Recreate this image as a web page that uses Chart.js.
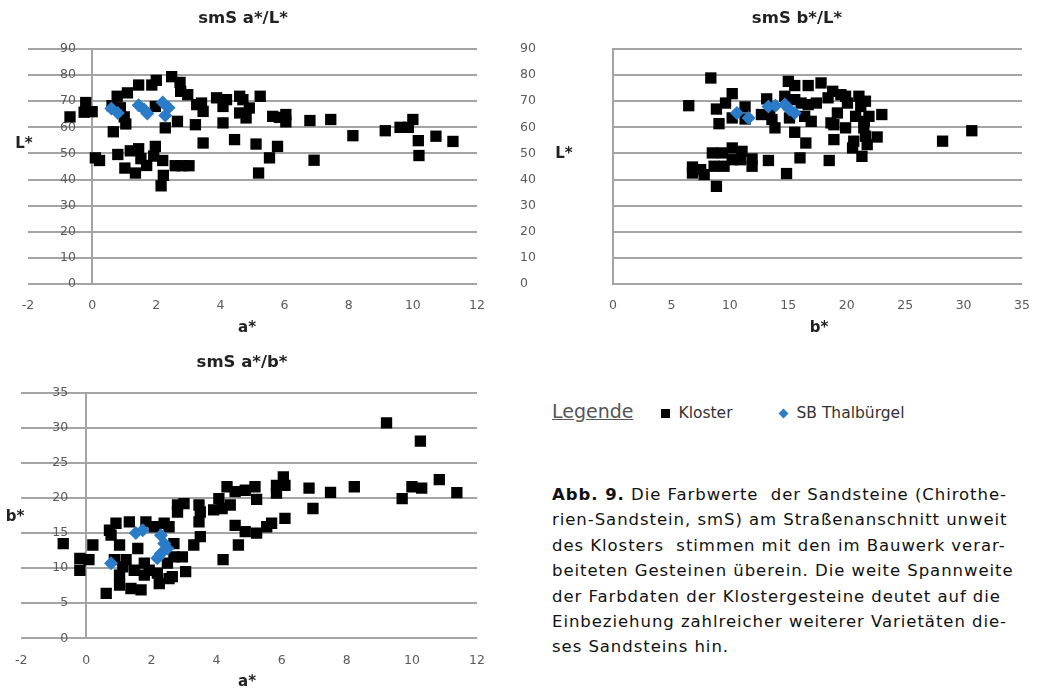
<!DOCTYPE html>
<html>
<head>
<meta charset="utf-8">
<script src="https://cdn.jsdelivr.net/npm/chart.js"></script>
<style>
  body { margin: 0; background: #fff; width: 1044px; height: 696px; overflow: hidden; position: relative; font-family: "DejaVu Sans", sans-serif; }
  canvas { position: absolute; }
  #c1 { left: 0; top: 0; }
  #c2 { left: 520px; top: 0; }
  #c3 { left: 0; top: 340px; }
  #legend { position: absolute; left: 552px; top: 400px; font-size: 15.5px; color: #333; white-space: nowrap; }
  #legend .head { font-size: 19px; color: #555; text-decoration: underline; margin-right: 28px; }
  #legend .sq { display: inline-block; width: 9px; height: 9px; background: #000; margin-right: 8px; }
  #legend .di { display: inline-block; width: 7px; height: 7px; background: #2a7bc8; transform: rotate(45deg); margin: 0 10px 1px 47px; }
  #caption { position: absolute; left: 552px; top: 482px; font-size: 16.5px; letter-spacing: 0.95px; line-height: 25.4px; color: #111; white-space: pre; }
</style>
</head>
<body>
<canvas id="c1" width="500" height="340"></canvas>
<canvas id="c2" width="524" height="340"></canvas>
<canvas id="c3" width="500" height="356"></canvas>
<div id="legend"><span class="head">Legende</span><span class="sq"></span>Kloster<span class="di"></span>SB Thalbürgel</div>
<div id="caption"><b>Abb. 9.</b> Die Farbwerte  der Sandsteine (Chirothe-
rien-Sandstein, smS) am Straßenanschnitt unweit
des Klosters  stimmen mit den im Bauwerk verar-
beiteten Gesteinen überein. Die weite Spannweite
der Farbdaten der Klostergesteine deutet auf die
Einbeziehung zahlreicher weiterer Varietäten die-
ses Sandsteins hin.</div>
<script>
// a*/L*  [a, L]
const klosterAL = [
  [-0.69, 64], [-0.2, 69.5], [-0.25, 65.8], [0, 66], [0.1, 48.3], [0.23, 47.3], [0.62, 68.3], [0.66, 58.3],
  [0.78, 71.9], [0.8, 49.6], [0.88, 67.5], [1.0, 64], [1.02, 44.4], [1.05, 61.3], [1.1, 73.2], [1.19, 51],
  [1.35, 42.5], [1.45, 76.2], [1.45, 51.8], [1.52, 48], [1.7, 45.4], [1.86, 76.2], [2.0, 78], [1.97, 52.7],
  [1.92, 49], [1.97, 68], [2.2, 47.3], [2.22, 41.6], [2.15, 37.6], [2.28, 59.8], [2.48, 79.4], [2.74, 77.2],
  [2.66, 62.3], [2.59, 45.3], [2.76, 73.8], [2.98, 72.5], [2.8, 45.3], [3.02, 45.3], [3.22, 61], [3.26, 68.7],
  [3.41, 69.3], [3.46, 66.1], [3.46, 54], [3.88, 71.3], [4.08, 68], [4.08, 61.7], [4.19, 70.6], [4.44, 55.3],
  [4.6, 71.9], [4.7, 70.6], [4.6, 65.5], [4.9, 67.4], [4.8, 63.6], [5.11, 53.6], [5.24, 71.9], [5.19, 42.5],
  [5.53, 48.3], [5.63, 64.2], [5.78, 52.7], [5.84, 63.8], [6.04, 64.9], [6.04, 62.1], [6.79, 62.6], [6.92, 47.4],
  [7.44, 63], [8.13, 56.8], [9.14, 58.7], [9.6, 60], [9.86, 60], [10.0, 63], [10.17, 54.9], [10.19, 49.2],
  [10.72, 56.6], [11.25, 54.6]
];
const thalAL = [[0.6, 67.2], [0.8, 65.5], [1.45, 68.5], [1.62, 66.8], [1.72, 65.3], [2.2, 69.5], [2.38, 67.5], [2.28, 64.5]];

// b*/L*  [b, L]
const klosterBL = [
  [6.48, 68.3], [8.37, 78.9], [8.85, 67], [9.07, 61.4], [9.63, 69.3], [10.2, 72.9], [10.2, 63.6], [11.3, 67.8],
  [11.3, 63.2], [12.7, 64.9], [13.15, 70.9], [13.4, 66.2], [13.6, 63], [13.86, 59.8], [15, 77.6], [15.55, 76],
  [16.7, 76], [17.8, 77], [14.7, 71.9], [15.55, 70.6], [16.1, 69.3], [16.7, 68.7], [17.4, 69.3], [16.4, 64.2],
  [16.96, 62.3], [15.1, 63.6], [15.55, 58.1], [16.5, 54], [16, 48.3], [18.4, 71.3], [18.8, 73.8], [19.5, 72.5],
  [19.9, 71.9], [20.06, 69.3], [19.2, 65.5], [18.65, 61.7], [18.9, 61], [19.9, 59.8], [18.9, 55.3], [18.5, 47.3],
  [21.04, 71.9], [21.6, 70], [20.76, 64.2], [21.9, 64.2], [23.0, 64.9], [21.46, 59.8], [21.6, 56.6], [22.6, 56.3],
  [20.6, 54.7], [20.5, 52.1], [21.75, 53.4], [21.3, 48.9], [28.2, 54.7], [30.7, 58.7], [8.5, 50.2], [9.35, 50.2],
  [10.2, 52.1], [11.04, 50.8], [10.2, 47.6], [10.9, 47.6], [11.9, 47.9], [11.9, 45.1], [8.65, 45.1], [9.5, 45.1],
  [6.8, 44.8], [6.8, 42.5], [7.5, 43.8], [7.8, 41.9], [8.85, 37.4], [13.3, 47.3], [14.85, 42.3], [21.5, 62.3],
  [21.2, 68]
];
const thalBL = [[10.6, 65.5], [11.6, 63.6], [13.3, 68], [13.9, 68.3], [14.7, 68.7], [15.1, 66.8], [15.55, 65.5]];

// a*/b*  [a, b]
const klosterAB = [
  [-0.71, 13.5], [-0.2, 11.4], [-0.2, 9.7], [0.08, 11.2], [0.2, 13.3], [0.61, 6.4], [0.71, 15.4], [0.91, 16.4],
  [0.76, 14.7], [1.02, 13.3], [0.86, 11.2], [1.02, 9.0], [1.02, 7.6], [1.22, 11.2], [1.12, 10.2], [1.32, 16.6],
  [1.37, 7.1], [1.58, 12.8], [1.47, 9.7], [1.68, 6.9], [1.78, 9.0], [1.83, 16.6], [1.78, 10.7], [1.93, 9.7],
  [2.08, 15.9], [2.18, 9.3], [2.24, 7.8], [2.39, 16.4], [2.54, 15.9], [2.49, 10.7], [2.54, 8.5], [2.64, 8.8],
  [2.69, 13.5], [2.69, 11.6], [2.95, 11.6], [3.05, 9.5], [2.8, 18.0], [2.8, 19.0], [3.0, 19.2], [3.3, 13.3],
  [3.46, 19.0], [3.46, 16.6], [3.5, 14.5], [3.5, 18], [3.91, 18.3], [4.07, 19.9], [4.17, 18.5], [4.32, 21.6],
  [4.42, 19.0], [4.57, 20.9], [4.88, 21.1], [5.18, 21.6], [5.23, 19.8], [4.57, 16.1], [4.88, 15.2], [5.23, 15.0],
  [4.67, 13.3], [4.2, 11.2], [5.54, 15.9], [5.69, 16.4], [5.84, 20.7], [5.84, 21.8], [6.05, 23.0], [6.1, 21.8],
  [6.1, 17.1], [6.84, 21.4], [6.96, 18.5], [7.5, 20.8], [8.23, 21.6], [9.22, 30.7], [10.26, 28.1], [9.7, 19.9],
  [10.0, 21.6], [10.3, 21.4], [10.84, 22.6], [11.38, 20.75]
];
const thalAB = [[0.76, 10.7], [1.52, 15], [1.73, 15.4], [2.29, 14.7], [2.39, 13.5], [2.29, 12.1], [2.18, 11.4], [2.49, 12.8]];

// axis ranges / ticks  [min, max, step]
const aTicks = [-2, 12, 2];
const bTicks = [0, 35, 5];
const lTicks = [0, 90, 10];

const gridGrey = '#a4a4a4';
const tickGrey = '#5a5a5a';
const tickFont = { family: 'DejaVu Sans', size: 12.5 };

// draws free text (chart titles, horizontal axis titles)
const textPlugin = {
  id: 'texts',
  afterDraw(chart, args, opts) {
    const ctx = chart.ctx;
    ctx.save();
    ctx.textAlign = 'center';
    ctx.textBaseline = 'middle';
    (opts.items || []).forEach(it => {
      ctx.font = it.font;
      ctx.fillStyle = it.color || '#222';
      ctx.fillText(it.text, it.x, it.y);
    });
    ctx.restore();
  }
};

function toPoints(pairs) {
  return pairs.map(p => ({ x: p[0], y: p[1] }));
}

function datasets(kloster, thal) {
  return [
    {
      label: 'SB Thalbürgel',
      data: toPoints(thal),
      pointStyle: 'rectRot',
      pointRadius: 7,
      backgroundColor: '#2a7bc8',
      borderWidth: 0,
      order: 0
    },
    {
      label: 'Kloster',
      data: toPoints(kloster),
      pointStyle: 'rect',
      pointRadius: 8,
      backgroundColor: '#000',
      borderWidth: 0,
      order: 1
    }
  ];
}

function makeChart(id, kloster, thal, xt, yt, cfg) {
  const ctx = document.getElementById(id);
  return new Chart(ctx, {
    type: 'scatter',
    data: { datasets: datasets(kloster, thal) },
    plugins: [textPlugin],
    options: {
      responsive: false,
      animation: false,
      layout: { padding: cfg.padding },
      plugins: {
        legend: { display: false },
        tooltip: { enabled: false },
        texts: { items: cfg.texts }
      },
      scales: {
        x: {
          type: 'linear',
          min: xt[0], max: xt[1],
          ticks: { stepSize: xt[2], color: tickGrey, font: tickFont, padding: cfg.xPad },
          grid: {
            drawTicks: false,
            lineWidth: 2,
            // only the vertical line at zero is drawn
            color: c => (cfg.zeroLine && c.tick && c.tick.value === 0) ? gridGrey : 'rgba(0,0,0,0)'
          },
          border: { display: false },
          afterFit: s => { s.height = 28; }
        },
        y: {
          min: yt[0], max: yt[1],
          ticks: {
            stepSize: yt[2], color: tickGrey, font: tickFont,
            mirror: cfg.mirror, crossAlign: 'far', padding: cfg.yPad
          },
          grid: { drawTicks: false, lineWidth: 2, color: gridGrey },
          border: { display: !cfg.mirror, color: gridGrey, width: 2 },
          afterFit: s => { s.width = cfg.yWidth; }
        }
      }
    }
  });
}

const titleFont = 'bold 16.5px "DejaVu Sans"';
const axisFont = 'bold 15px "DejaVu Sans"';

makeChart('c1', klosterAL, thalAL, aTicks, lTicks, {
  padding: { left: 28, right: 23, top: 49, bottom: 28 },
  mirror: true, yPad: 32, yWidth: 0, xPad: 14, zeroLine: true,
  texts: [
    { text: 'smS a*/L*', x: 243, y: 19, font: titleFont },
    { text: 'L*', x: 24, y: 144, font: axisFont },
    { text: 'a*', x: 247, y: 328, font: axisFont }
  ]
});

makeChart('c2', klosterBL, thalBL, bTicks, lTicks, {
  padding: { left: 0, right: 17, top: 49, bottom: 28 },
  mirror: false, yPad: 14, yWidth: 93, xPad: 14, zeroLine: false,
  texts: [
    { text: 'smS b*/L*', x: 277, y: 19, font: titleFont },
    { text: 'L*', x: 44, y: 154, font: axisFont },
    { text: 'b*', x: 299, y: 328, font: axisFont }
  ]
});

makeChart('c3', klosterAB, thalAB, aTicks, bTicks, {
  padding: { left: 20, right: 19, top: 52.7, bottom: 29.7 },
  mirror: true, yPad: 31, yWidth: 0, xPad: 15, zeroLine: true,
  texts: [
    { text: 'smS a*/b*', x: 242, y: 23, font: titleFont },
    { text: 'b*', x: 15, y: 177, font: axisFont },
    { text: 'a*', x: 247, y: 342, font: axisFont }
  ]
});
</script>
</body>
</html>
